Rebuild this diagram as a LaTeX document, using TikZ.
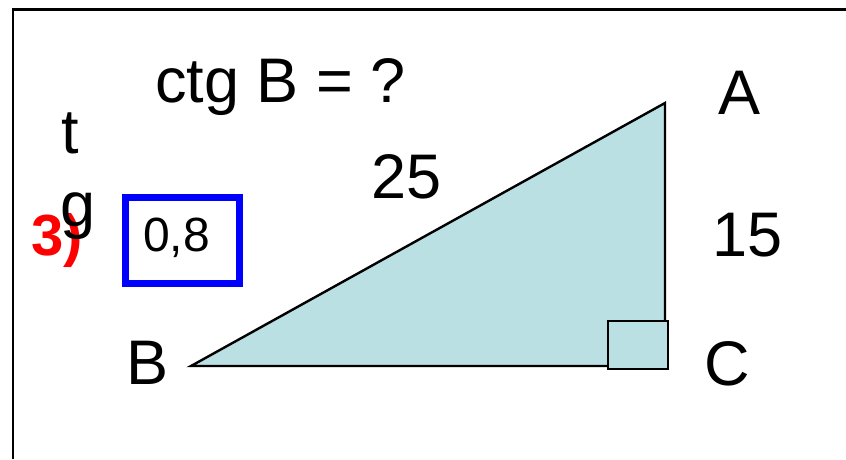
\documentclass[tikz,border=0pt]{standalone}
\usepackage{fontspec}
\setmainfont{Liberation Sans}
\definecolor{triblue}{HTML}{BBE0E3}
\begin{document}
\begin{tikzpicture}[x=1pt,y=-1pt,
  big/.style={inner sep=0pt,anchor=base west,font=\fontsize{63}{75}\selectfont},
  mid/.style={inner sep=0pt,anchor=base west,font=\fontsize{48}{57}\selectfont},
  redlab/.style={inner sep=0pt,anchor=base west,text=red,font=\fontsize{58}{68}\selectfont\bfseries},
  edge/.style={draw=black,line width=2.4pt,line join=miter}]
\useasboundingbox (0,0) rectangle (846,459);
% frame
\draw[line width=3pt] (12,9) -- (846,9);
\draw[line width=2pt] (13,8) -- (13,459);
% triangle
\coordinate (vB) at (191,366);
\coordinate (vC) at (665,366);
\coordinate (vA) at (665,103);
\filldraw[edge,fill=triblue] (vB) -- (vC) -- (vA) -- cycle;
\coordinate (sq1) at (608,321);
\coordinate (sq2) at (668,369);
\filldraw[edge,fill=triblue] (sq1) rectangle (sq2);
% texts
\node[big] (title) at (155,102) {ctg B = ?};
\node[big] (labA) at (718,114) {A};
\node[big] (labB) at (126,384) {B};
\node[big] (labC) at (704,385) {C};
\node[big] (hyp) at (371,198) {25};
\node[big] (leg) at (712,256) {15};
\node[redlab] (num) at (31,255) {3)};
\node[big] (tt) at (61,153) {t};
\node[big] (gg) at (60,226) {g};
\draw[blue,line width=7pt] (125.5,197.5) rectangle (239.5,283.5);
\node[mid] (ans) at (143,251) {0,8};
\end{tikzpicture}
\end{document}
